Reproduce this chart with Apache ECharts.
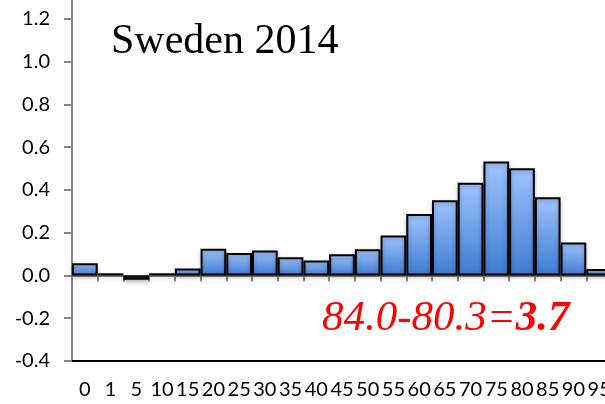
<!DOCTYPE html>
<html>
<head>
<meta charset="utf-8">
<script src="https://cdn.jsdelivr.net/npm/echarts@6/dist/echarts.min.js"></script>
<style>
  html, body { margin: 0; padding: 0; background: #fff; }
  #chart { width: 605px; height: 404px; }
</style>
</head>
<body>
<div id="chart"></div>
<script>
// age groups
const ages = ['0', '1', '5', '10', '15', '20', '25', '30', '35', '40', '45',
  '50', '55', '60', '65', '70', '75', '80', '85', '90', '95'];
// contribution per age group
const values = [0.057, 0.01, -0.02, 0.01, 0.032, 0.125, 0.105, 0.117, 0.085, 0.07, 0.099,
  0.123, 0.187, 0.287, 0.352, 0.433, 0.533, 0.501, 0.366, 0.154, 0.03];
const titleText = 'Sweden 2014';

const myChart = echarts.init(document.getElementById('chart'));
const barFill = new echarts.graphic.LinearGradient(0, 0, 0, 1, [
  { offset: 0, color: '#9fc5ff' },
  { offset: 1, color: '#3d7bd0' }
]);
const option = {
  animation: false,
  title: [
    {
      text: titleText,
      left: 106,
      top: 16,
      textStyle: { fontFamily: 'Liberation Serif', fontSize: 42, fontWeight: 'normal', color: '#000' }
    },
    {
      text: '{a|84.0-80.3=}{b|3.7}',
      left: 317,
      top: 292,
      textStyle: {
        fontWeight: 'normal',
        rich: {
          a: { fontFamily: 'Liberation Serif', fontSize: 43, fontStyle: 'italic', fontWeight: 'normal', color: '#ff0000' },
          b: { fontFamily: 'Liberation Serif', fontSize: 43, fontStyle: 'italic', fontWeight: 'bold', color: '#ff0000' }
        }
      }
    }
  ],
  grid: { left: 72, right: -7, top: -24, bottom: 43, outerBoundsMode: 'none', containLabel: false },
  xAxis: [
    {
      type: 'category',
      data: ages,
      position: 'bottom',
      axisLine: { onZero: true, lineStyle: { color: '#868686', width: 2 } },
      axisTick: { show: true, length: 6, lineStyle: { color: '#868686', width: 2 } },
      axisLabel: { show: false }
    },
    {
      type: 'category',
      data: ages,
      position: 'bottom',
      axisLine: { onZero: false, lineStyle: { color: '#000', width: 2 } },
      axisTick: { show: false },
      axisLabel: { fontFamily: 'Lato', fontSize: 20, color: '#000', margin: 19, interval: 0 }
    }
  ],
  yAxis: {
    type: 'value',
    min: -0.4,
    max: 1.4,
    interval: 0.2,
    splitLine: { show: false },
    axisLine: { show: true, lineStyle: { color: '#868686', width: 2 } },
    axisTick: { show: true, length: 8, lineStyle: { color: '#868686', width: 2 } },
    axisLabel: {
      fontFamily: 'Lato', fontSize: 20, color: '#000', margin: 22,
      formatter: v => v.toFixed(1)
    }
  },
  series: [
    {
      type: 'bar',
      data: values,
      barCategoryGap: 0,
      itemStyle: {
        color: barFill,
        borderColor: '#000',
        borderWidth: 2,
        shadowColor: 'rgba(0,0,0,0.25)',
        shadowBlur: 4,
        shadowOffsetY: 2
      }
    }
  ]
};
myChart.setOption(option);
</script>
</body>
</html>
